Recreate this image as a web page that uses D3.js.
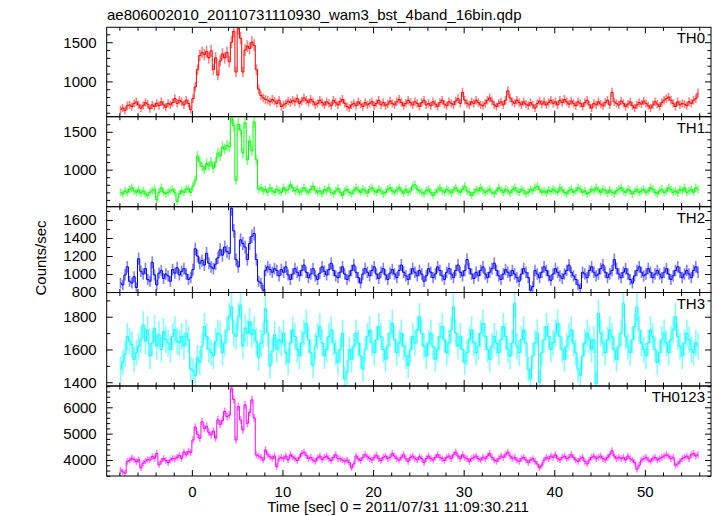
<!DOCTYPE html>
<html>
<head>
<meta charset="utf-8">
<script src="https://cdn.jsdelivr.net/npm/d3@7"></script>
<style>
  html, body { margin: 0; padding: 0; background: #fff; }
  svg { display: block; }
  text { font-family: "Liberation Sans", Arial, Helvetica, sans-serif; }
</style>
</head>
<body>
<svg id="chart" width="717" height="516"></svg>
<script>
// ---------------- DATA ----------------
const title = "ae806002010_20110731110930_wam3_bst_4band_16bin.qdp";
const xLabel = "Time [sec] 0 = 2011/07/31 11:09:30.211";
const yLabel = "Counts/sec";
const seriesNames = ["TH0", "TH1", "TH2", "TH3", "TH0123"];
const tStart = -8;      // start of first bin (s)
const binWidth = 0.25;  // bin width (s)

const th0 = [
640,660,630,690,700,680,720,740, 700,660,690,730,710,650,700,680,
720,690,740,700,670,720,700,730, 780,720,760,740,700,760,720,640,
780,930,1150,1330,1370,1340,1380,1300,1390,1150,1300,1080,1260,1350,1300,1370,1250,1500,1640,1120,1680,1550,1120,1400,1450,1420,1500,1460,1150,
900,820,790,770,760,740,770,750,720,760,
680,700,720,750,730,760,740,780,720,750,
790,760,730,770,740,700,720,760,730,700,
740,720,690,760,730,700,740,770,720,680,
660,700,720,690,740,710,680,730,700,720,
740,690,720,760,700,730,690,710,750,720,
700,740,770,730,690,720,760,730,700,740,
720,680,730,760,700,720,690,740,710,680,
730,760,710,690,740,720,700,750,780,720,
860,760,720,700,740,720,760,730,700,690,
720,760,790,750,700,680,720,740,700,760,
880,790,740,720,760,730,700,740,710,690,
730,700,660,720,750,710,740,700,730,760,
720,740,700,760,730,770,740,710,750,720,
690,740,720,680,730,760,700,660,720,700,
740,710,690,730,760,700,860,740,720,700,
750,720,680,710,740,690,660,700,730,710,
750,720,690,660,700,740,710,680,730,760,
780,800,760,720,680,740,700,720,710,690,
740,720,760,780,850
];

const th1 = [
700,680,720,700,740,760,720,700, 730,690,720,680,660,700,720,740,
600,700,760,700,680,700,720,740, 700,580,680,720,700,740,750,700,
780,860,1180,1100,1040,1000,1080,1050,1100,1020,1100,1220,1180,1300,1270,1320,1300,1690,1580,860,1600,1520,1220,1620,1130,1380,1250,1630,1130,
740,760,720,740,700,760,720,700,740,720,
700,760,720,740,800,760,720,740,700,720,
760,720,700,740,780,730,700,720,680,740,
720,760,700,680,720,750,700,660,720,740,
700,680,720,760,730,700,740,720,690,740,
760,720,700,740,720,680,700,740,760,720,
700,730,760,720,690,740,700,720,780,800,
740,720,700,680,720,740,700,660,700,730,
760,720,700,740,720,690,730,760,720,700,
740,780,720,700,660,700,740,720,760,730,
700,720,740,700,680,720,760,730,700,740,
720,690,730,760,720,700,740,720,680,700,
740,720,760,780,740,700,720,690,730,710,
740,720,700,760,730,700,680,720,740,700,
720,760,740,700,720,680,700,740,720,760,
730,700,740,720,690,730,700,680,720,740,
760,720,700,740,720,680,710,740,700,720,
740,700,720,760,740,700,680,720,740,700,
720,760,740,700,720,690,740,720,760,700,
720,740,700,760,740
];

const th2 = [
900,880,990,1080,920,900,970,850, 1170,1030,1000,1060,940,920,1130,990,
880,1010,1040,950,1000,980,920,1050, 1010,1070,990,1030,1060,1000,940,960,
1050,1280,1200,1120,1150,1100,1230,1120,1080,1060,1110,1180,1270,1210,1300,1250,1230,1730,1480,1160,1080,1380,1340,1300,1160,1340,1420,1450,1160,
920,900,820,1040,1080,1050,1020,1060,1040,980,
1050,1020,1080,990,940,1000,1060,1020,980,1040,
1100,1020,960,1000,1060,980,940,1010,1080,1030,
990,1050,1120,1040,980,960,1020,1080,1000,940,
980,1040,1100,1020,960,900,1000,1060,1020,980,
1040,1080,1000,950,1020,1060,990,940,1010,1050,
1000,960,1040,1100,1020,980,940,1000,1060,1020,
980,1040,1000,920,980,1060,1020,960,1000,1080,
1040,980,940,1020,1060,1000,960,1040,1100,1020,
980,1040,1160,1060,1000,950,1020,980,1040,1080,
1000,960,1020,1060,1120,1040,980,940,1000,1050,
1020,980,1040,1000,960,920,1000,1060,1020,960,
820,860,1040,1000,960,1020,1080,1040,980,930,
1000,1060,1020,980,950,1000,1040,1100,1020,980,
940,880,840,1020,1000,960,1040,1080,1020,980,
1000,1060,1100,1020,960,1000,1040,1160,1060,1000,
960,1020,1060,1000,940,900,980,1040,1080,1020,
980,1000,1060,1020,960,1000,1040,1000,960,1020,
1060,1000,940,980,1040,1080,1020,960,1000,1040,
1000,960,1040,1080,1020
];

const th3 = [
1480,1520,1570,1680,1650,1630,1540,1580,
1620,1660,1750,1650,1720,1560,1640,1730,
1620,1690,1600,1710,1660,1640,1600,1680,
1720,1650,1640,1680,1620,1700,1660,1480,
1470,1440,1550,1520,1620,1740,1680,1600,
1580,1560,1650,1700,1690,1580,1640,1720,
1800,1860,1700,1680,1800,1870,1620,1730,
1700,1770,1690,1720,1650,1550,1640,1690,
1850,1700,1500,1590,1690,1600,1660,1640,
1700,1580,1520,1640,1720,1680,1600,1560,
1640,1700,1760,1660,1580,1500,1620,1680,
1740,1640,1560,1600,1680,1720,1640,1580,
1520,1600,1700,1420,1460,1600,1540,1620,
1700,1640,1560,1480,1600,1680,1720,1640,
1580,1660,1740,1680,1600,1540,1620,1700,
1760,1660,1580,1640,1700,1620,1560,1500,
1600,1680,1640,1720,1800,1700,1620,1560,
1640,1700,1620,1540,1600,1680,1740,1660,
1580,1640,1720,1860,1700,1620,1680,1600,
1520,1580,1660,1720,1640,1580,1620,1700,
1760,1680,1600,1540,1620,1680,1640,1580,
1660,1740,1680,1600,1560,1640,1880,1620,
1580,1660,1720,1640,1480,1420,1560,1640,
1700,1400,1580,1660,1740,1680,1600,1640,
1700,1760,1680,1600,1540,1620,1680,1720,
1640,1580,1480,1440,1560,1640,1700,1660,
1600,1660,1390,1820,1700,1640,1580,1660,
1720,1680,1600,1540,1620,1700,1880,1680,
1620,1580,1660,1740,1860,1720,1640,1600,
1560,1640,1720,1680,1600,1520,1580,1660,
1700,1640,1580,1660,1720,1800,1680,1620,
1560,1640,1700,1660,1600,1580,1640,1620
];

const th0123 = [
3620,3550,3500,3940,3990,4070,4020,3930, 4010,3700,3880,3960,4020,4000,4130,4060,
4250,3820,3950,4060,3980,3900,4000,4060, 4040,4100,4180,4060,4300,4200,4330,4280,
4760,5250,4980,4820,5450,5200,5280,5050,4950,5100,4830,5520,5350,5500,5840,5650,5700,6720,6300,4760,6030,5520,5140,6090,5390,5800,6280,5600,4190,
4150,4100,4000,4380,4200,4120,4060,4150,3750,4050,
4100,4050,4150,4000,4200,4120,4050,3980,4100,4250,
4300,4180,4050,4100,4000,3950,4080,4150,4020,4100,
4150,4050,3980,4100,4200,4050,4050,4000,3950,4000,
3900,3700,3850,4150,4050,3980,4100,4200,4120,4050,
4000,4100,4180,4050,3980,4100,4150,4050,4100,4250,
4150,4050,4000,4100,4200,4050,3950,4100,4150,4050,
4000,4120,4050,3900,4050,4150,4050,4000,4100,4200,
4100,4050,3980,4100,4150,4050,4200,4300,4150,4050,
4200,4100,4050,3950,4050,4100,4150,4050,4000,4100,
4050,4150,4250,4100,4000,3950,4050,4150,4100,4200,
4300,4150,4050,4100,4000,3950,4050,4100,4000,3900,
4000,4050,3950,3850,3700,3800,4000,4100,4050,4150,
4100,4200,4050,4000,4100,4150,4050,4100,4200,4100,
4000,3950,4050,4100,3950,3850,4000,4100,4150,4050,
4100,4150,4050,4000,4100,4200,4350,4150,4050,4100,
4050,4100,4000,4150,4050,4000,3900,3650,3800,4000,
4050,4100,4000,3950,4050,4100,4000,4050,4100,4150,
4200,4150,4050,4100,3800,3850,3950,4050,4100,4150,
4050,4200,4250,4150,4200
];

const seriesValues = [th0, th1, th2, th3, th0123];
const seriesColors = ["#ff0000", "#00ff00", "#0000ff", "#00ffff", "#ff00ff"];
const yDomains = [[550, 1690], [510, 1700], [795, 1748], [1377, 1948], [3393, 6808]];
const yMajorTicks = [[1000, 1500], [1000, 1500], [800, 1000, 1200, 1400, 1600], [1400, 1600, 1800], [4000, 5000, 6000]];
const yMinorSteps = [100, 100, 100, 100, 200];
const xDomain = [-9.4, 57.3];
const xMajorTicks = [0, 10, 20, 30, 40, 50];
const xMinorStep = 2;

// ---------------- LAYOUT ----------------
const svg = d3.select("#chart");
const left = 106.7, right = 711;
const panelEdges = [27.3, 116.7, 206.7, 292.5, 386, 476];
const FONT = 15;
const majorLen = 6, minorLen = 3.5;

const x = d3.scaleLinear().domain(xDomain).range([left, right]);
const xMinorTicks = d3.range(-8, 57, xMinorStep).filter(v => !xMajorTicks.includes(v));

svg.append("text")
  .attr("x", 107).attr("y", 20)
  .attr("font-size", FONT).attr("fill", "#000")
  .text(title);

seriesValues.forEach((vals, p) => {
  const top = panelEdges[p], bottom = panelEdges[p + 1];
  const y = d3.scaleLinear().domain(yDomains[p]).range([bottom, top]);
  const color = seriesColors[p];
  const pts = vals.map((v, i) => ({ t: tStart + binWidth * (i + 0.5), v: v, e: 2 * Math.sqrt(v) }));

  const clipId = "clip" + p;
  svg.append("clipPath").attr("id", clipId)
    .append("rect").attr("x", left).attr("y", top).attr("width", right - left).attr("height", bottom - top);

  const g = svg.append("g").attr("clip-path", `url(#${clipId})`);
  // error bars
  g.selectAll("line.err").data(pts).join("line")
    .attr("class", "err")
    .attr("x1", d => x(d.t)).attr("x2", d => x(d.t))
    .attr("y1", d => y(d.v - d.e)).attr("y2", d => y(d.v + d.e))
    .attr("stroke", color).attr("stroke-opacity", 0.5).attr("stroke-width", 1.6);
  // binned step line
  const line = d3.line().x(d => x(d.t)).y(d => y(d.v)).curve(d3.curveStep);
  g.append("path").datum(pts)
    .attr("d", line).attr("fill", "none")
    .attr("stroke", color).attr("stroke-width", 1);

  // axes
  const minor = d3.range(Math.ceil(yDomains[p][0] / yMinorSteps[p]) * yMinorSteps[p], yDomains[p][1], yMinorSteps[p])
    .filter(v => !yMajorTicks[p].includes(v));

  function styleAxis(sel) {
    sel.select(".domain").remove();
    sel.selectAll(".tick line").attr("stroke", "#000");
    sel.selectAll("text").attr("font-size", FONT).attr("fill", "#000")
      .attr("font-family", '"Liberation Sans", Arial, Helvetica, sans-serif');
  }
  const fmt = d3.format("d");
  svg.append("g").attr("transform", `translate(${left},0)`)
    .call(d3.axisLeft(y).tickValues(yMajorTicks[p]).tickSize(-majorLen).tickPadding(10).tickFormat(fmt)).call(styleAxis);
  svg.append("g").attr("transform", `translate(${left},0)`)
    .call(d3.axisLeft(y).tickValues(minor).tickSize(-minorLen).tickFormat("")).call(styleAxis);
  svg.append("g").attr("transform", `translate(${right},0)`)
    .call(d3.axisRight(y).tickValues(yMajorTicks[p]).tickSize(-majorLen).tickFormat("")).call(styleAxis);
  svg.append("g").attr("transform", `translate(${right},0)`)
    .call(d3.axisRight(y).tickValues(minor).tickSize(-minorLen).tickFormat("")).call(styleAxis);

  svg.append("g").attr("transform", `translate(0,${top})`)
    .call(d3.axisTop(x).tickValues(xMajorTicks).tickSize(-majorLen).tickFormat("")).call(styleAxis);
  svg.append("g").attr("transform", `translate(0,${top})`)
    .call(d3.axisTop(x).tickValues(xMinorTicks).tickSize(-minorLen).tickFormat("")).call(styleAxis);
  const isLast = p === seriesValues.length - 1;
  svg.append("g").attr("transform", `translate(0,${bottom})`)
    .call(d3.axisBottom(x).tickValues(xMajorTicks).tickSize(-majorLen).tickPadding(10)
      .tickFormat(isLast ? fmt : "")).call(styleAxis);
  svg.append("g").attr("transform", `translate(0,${bottom})`)
    .call(d3.axisBottom(x).tickValues(xMinorTicks).tickSize(-minorLen).tickFormat("")).call(styleAxis);

  // frame
  svg.append("rect").attr("x", left).attr("y", top)
    .attr("width", right - left).attr("height", bottom - top)
    .attr("fill", "none").attr("stroke", "#000").attr("stroke-width", 1);

  svg.append("text")
    .attr("x", 705).attr("y", top + 16)
    .attr("text-anchor", "end").attr("font-size", FONT).attr("fill", "#000")
    .text(seriesNames[p]);
});

svg.append("text")
  .attr("x", 398).attr("y", 512)
  .attr("text-anchor", "middle").attr("font-size", FONT).attr("fill", "#000")
  .text(xLabel);

svg.append("text")
  .attr("transform", "translate(46,258) rotate(-90)")
  .attr("text-anchor", "middle").attr("font-size", FONT).attr("fill", "#000")
  .text(yLabel);
</script>
</body>
</html>
